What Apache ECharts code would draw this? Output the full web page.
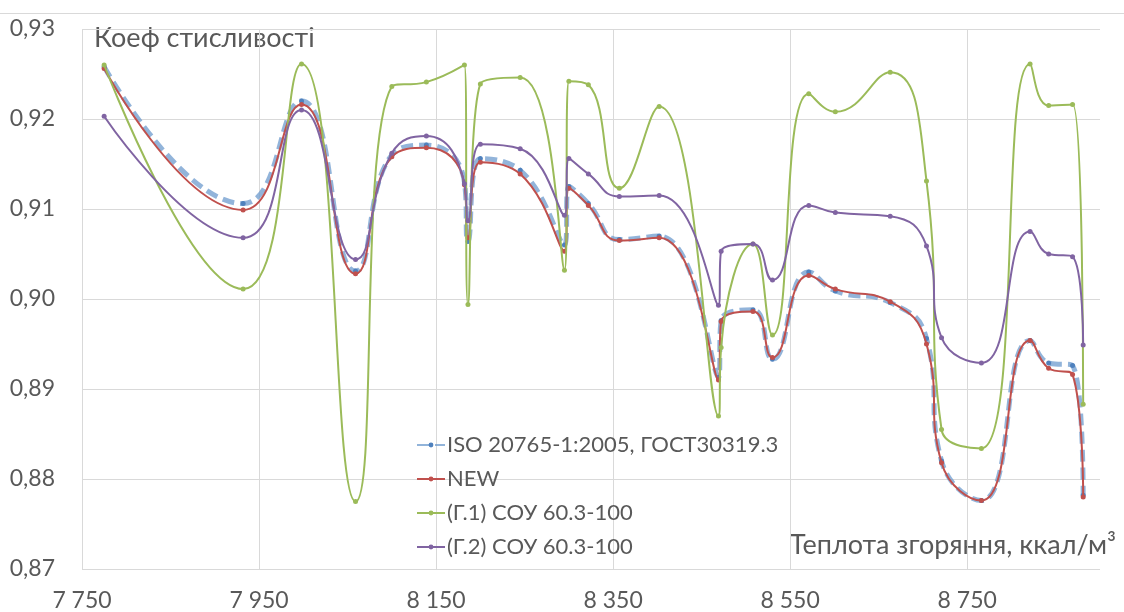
<!DOCTYPE html>
<html>
<head>
<meta charset="utf-8">
<script src="https://cdn.jsdelivr.net/npm/echarts@6/dist/echarts.min.js"></script>
<style>
html,body{margin:0;padding:0;background:#fff;}
#c{width:1124px;height:612px;}
</style>
</head>
<body>
<div id="c"></div>
<script>
// Heat of combustion, kcal/m3 (x values shared by all series)
const heatValues = [7775, 7932, 7998, 8059, 8100, 8139, 8182, 8186, 8200, 8245, 8295, 8300, 8322, 8357, 8402, 8469, 8472, 8508, 8530, 8571, 8601, 8663, 8704, 8721, 8766, 8821, 8842, 8869, 8881];

const seriesNames = ['ISO 20765-1:2005, ГОСТ30319.3', 'NEW', '(Г.1) СОУ 60.3-100', '(Г.2) СОУ 60.3-100'];

const isoValues = [0.9258, 0.9106, 0.9220, 0.9031, 0.9160, 0.9171, 0.9130, 0.9064, 0.9156, 0.9143, 0.9060, 0.9125, 0.9106, 0.9066, 0.9070, 0.8913, 0.8976, 0.8988, 0.8933, 0.9030, 0.9009, 0.8996, 0.8956, 0.8820, 0.8776, 0.8954, 0.8929, 0.8926, 0.8782];
const newValues = [0.9256, 0.9099, 0.9216, 0.9028, 0.9158, 0.9168, 0.9127, 0.9068, 0.9152, 0.9139, 0.9053, 0.9123, 0.9104, 0.9065, 0.9068, 0.8910, 0.8975, 0.8986, 0.8935, 0.9026, 0.9011, 0.8997, 0.8950, 0.8818, 0.8776, 0.8954, 0.8923, 0.8916, 0.8780];
const g1Values = [0.9260, 0.9011, 0.9261, 0.8775, 0.9236, 0.9241, 0.9260, 0.8994, 0.9239, 0.9246, 0.9032, 0.9242, 0.9238, 0.9123, 0.9214, 0.8870, 0.8946, 0.9061, 0.8960, 0.9228, 0.9208, 0.9252, 0.9131, 0.8855, 0.8834, 0.9261, 0.9215, 0.9216, 0.8883];
const g2Values = [0.9203, 0.9068, 0.9210, 0.9044, 0.9162, 0.9181, 0.9128, 0.9087, 0.9172, 0.9167, 0.9093, 0.9156, 0.9139, 0.9114, 0.9115, 0.8993, 0.9053, 0.9061, 0.9021, 0.9104, 0.9096, 0.9092, 0.9059, 0.8957, 0.8929, 0.9075, 0.9050, 0.9047, 0.8949];

const yTitle = 'Коеф стисливості';
const xTitle = 'Теплота згоряння, ккал/м³';

function pairs(ys){ return heatValues.map((x,i)=>[x, ys[i]]); }

const FONT = 'Lato';
const TXT = '#595959';

const chart = echarts.init(document.getElementById('c'));
chart.setOption({
  animation: false,
  backgroundColor: '#fff',
  textStyle: {fontFamily: FONT},
  grid: {left: 82, right: 24, top: 29, bottom: 43},
  xAxis: {
    type: 'value', min: 7750, max: 8900, interval: 200,
    axisLine: {show: false}, axisTick: {show: false},
    splitLine: {show: true, showMaxLine: false, lineStyle: {color: '#D9D9D9', width: 1}},
    axisLabel: {
      color: TXT, fontSize: 23, fontFamily: FONT, margin: 20, showMaxLabel: false,
      formatter: v => String(v).replace(/\B(?=(\d{3})+(?!\d))/g, ' ')
    }
  },
  yAxis: {
    type: 'value', min: 0.87, max: 0.93, interval: 0.01,
    axisLine: {show: false}, axisTick: {show: false},
    splitLine: {show: true, lineStyle: {color: '#D9D9D9', width: 1}},
    axisLabel: {
      color: TXT, fontSize: 23, fontFamily: FONT, margin: 27,
      formatter: v => v.toFixed(2).replace('.', ',')
    }
  },
  legend: {
    orient: 'vertical', left: 411, top: 427, itemGap: 8,
    itemWidth: 28, itemHeight: 6,
    textStyle: {color: TXT, fontSize: 22, fontFamily: FONT, lineHeight: 26, padding: [0,0,0,-3]},
    data: seriesNames
  },
  graphic: [
    {type: 'line', shape: {x1: 0, y1: 13.5, x2: 1124, y2: 13.5}, style: {stroke: '#D9D9D9', lineWidth: 1}, silent: true},
    {type: 'text', left: 94, top: 25, style: {text: yTitle, fill: TXT, font: '27px ' + FONT}},
    {type: 'text', right: 8, top: 532, style: {text: xTitle, fill: TXT, font: '27px ' + FONT}}
  ],
  series: [
    {name: seriesNames[0], type: 'line', data: pairs(isoValues), smooth: 0.5,
     symbol: 'circle', symbolSize: 5, itemStyle: {color: '#4F81BD'},
     lineStyle: {color: 'rgba(110,155,205,0.75)', width: 5, type: [12, 6]}, z: 1},
    {name: seriesNames[1], type: 'line', data: pairs(newValues), smooth: 0.5,
     symbol: 'circle', symbolSize: 5, itemStyle: {color: '#C0504D'},
     lineStyle: {color: '#C0504D', width: 2}, z: 2},
    {name: seriesNames[2], type: 'line', data: pairs(g1Values), smooth: 0.5,
     symbol: 'circle', symbolSize: 5, itemStyle: {color: '#9BBB59'},
     lineStyle: {color: '#9BBB59', width: 2}, z: 3},
    {name: seriesNames[3], type: 'line', data: pairs(g2Values), smooth: 0.5,
     symbol: 'circle', symbolSize: 5, itemStyle: {color: '#8064A2'},
     lineStyle: {color: '#8064A2', width: 2}, z: 4}
  ]
});
</script>
</body>
</html>
